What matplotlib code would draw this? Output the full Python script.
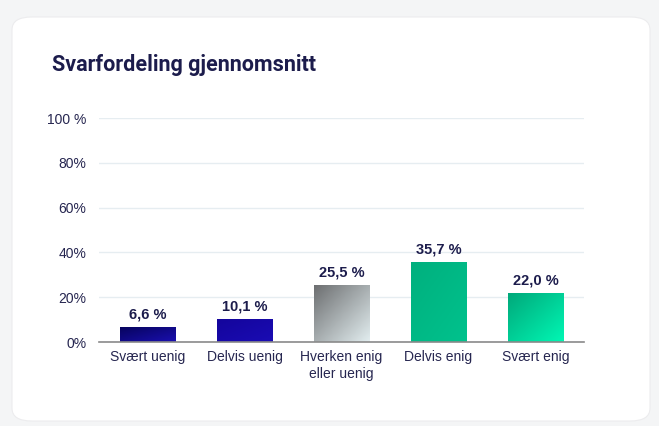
import numpy as np
import matplotlib.pyplot as plt
from matplotlib.patches import FancyBboxPatch
from matplotlib.colors import LinearSegmentedColormap

# data
categories = ['Svært uenig', 'Delvis uenig', 'Hverken enig\neller uenig', 'Delvis enig', 'Svært enig']
values = [6.6, 10.1, 25.5, 35.7, 22.0]
value_labels = ['6,6 %', '10,1 %', '25,5 %', '35,7 %', '22,0 %']
y_ticks = [0, 20, 40, 60, 80, 100]
y_tick_labels = ['0%', '20%', '40%', '60%', '80%', '100 %']

# gradient colours per bar (top-left -> bottom-right)
gradients = [
    ('#07045e', '#1a0fb0'),
    ('#14059c', '#1a0cb4'),
    ('#6c6e70', '#e2edef'),
    ('#00b07e', '#00c28d'),
    ('#00a87a', '#00f7b4'),
]

navy = '#1c1c4c'

fig = plt.figure(figsize=(6.59, 4.26), dpi=100)
fig.patch.set_facecolor('#f4f5f6')

# white card behind everything
card = FancyBboxPatch((12 / 659, 5 / 426), 638 / 659, 404 / 426,
                      boxstyle='round,pad=0,rounding_size=0.03',
                      transform=fig.transFigure, facecolor='white',
                      edgecolor='#ececee', linewidth=0.8, zorder=-5)
fig.patches.append(card)

fig.text(52 / 659, 1 - 65 / 426, 'Svarfordeling gjennomsnitt', fontsize=15.5,
         fontweight='bold', color=navy, family='Roboto', va='center')

ax = fig.add_axes([99 / 659, 1 - 342 / 426, 485 / 659, 224 / 426])
ax.set_facecolor('none')
ax.set_zorder(2)

x = np.arange(len(categories))
bars = ax.bar(x, values, width=0.57, color='none', zorder=3)

for bar, (c0, c1), lab in zip(bars, gradients, value_labels):
    cmap = LinearSegmentedColormap.from_list('g', [c0, c1])
    gx, gy = np.meshgrid(np.linspace(0, 1, 50), np.linspace(0, 1, 50))
    grad = (gx + gy) / 2
    bx, by = bar.get_x(), bar.get_y()
    bw, bh = bar.get_width(), bar.get_height()
    im = ax.imshow(grad, cmap=cmap, extent=[bx, bx + bw, by, by + bh],
                   origin='upper', aspect='auto', zorder=3)
    im.set_clip_path(bar)
    ax.text(bx + bw / 2, bh + 2.5, lab, ha='center', va='bottom',
            fontsize=10.5, fontweight='bold', color=navy, family='Liberation Sans')

ax.set_xlim(-0.5, len(categories) - 0.5)
ax.set_ylim(0, 100)
ax.set_yticks(y_ticks)
ax.set_yticklabels(y_tick_labels)
ax.set_xticks(x)
ax.set_xticklabels(categories)

for lbl in ax.get_xticklabels() + ax.get_yticklabels():
    lbl.set_family('Liberation Sans')
    lbl.set_fontsize(10)
    lbl.set_color('#262650')

ax.tick_params(axis='both', length=0)
ax.tick_params(axis='y', pad=9)
ax.tick_params(axis='x', pad=6)

ax.grid(axis='y', color='#e6edf1', linewidth=1, zorder=0)
ax.set_axisbelow(True)
for side in ['top', 'right', 'left']:
    ax.spines[side].set_visible(False)
ax.spines['bottom'].set_color('#8a8a8a')
ax.spines['bottom'].set_linewidth(1.2)
ax.spines['bottom'].set_zorder(4)

plt.savefig('out.png', dpi=100)
